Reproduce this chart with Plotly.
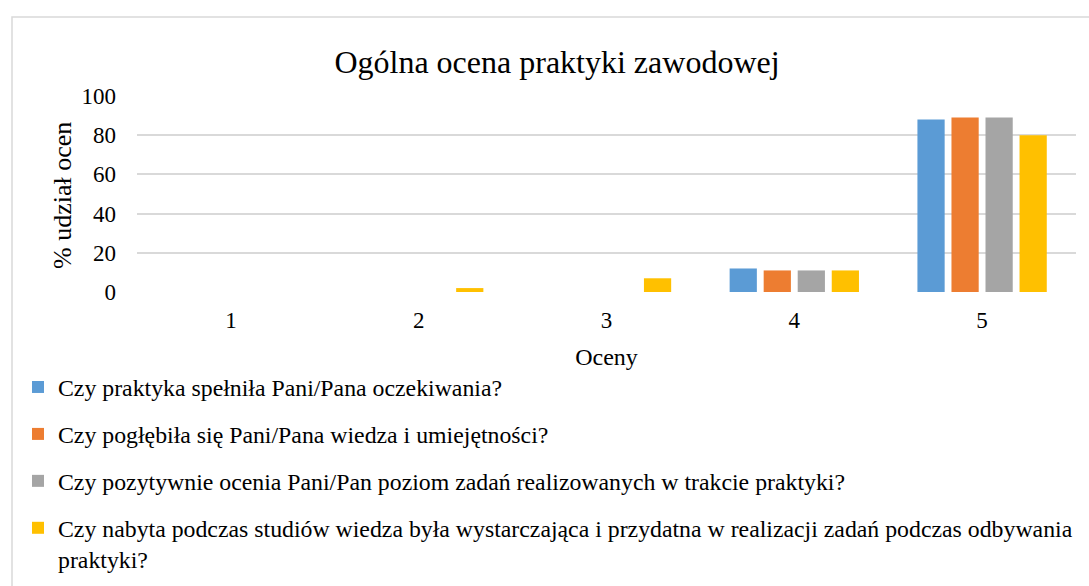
import plotly.graph_objects as go

categories = ["1", "2", "3", "4", "5"]
series_names = [
    "Czy praktyka spełniła Pani/Pana oczekiwania?",
    "Czy pogłębiła się Pani/Pana wiedza i umiejętności?",
    "Czy pozytywnie ocenia Pani/Pan poziom zadań realizowanych w trakcie praktyki?",
    "Czy nabyta podczas studiów wiedza była wystarczająca i przydatna w realizacji zadań podczas odbywania<br>praktyki?",
]
s1 = [0, 0, 0, 12, 88]
s2 = [0, 0, 0, 11, 89]
s3 = [0, 0, 0, 11, 89]
s4 = [0, 2, 7, 11, 80]
colors = ["#5B9BD5", "#ED7D31", "#A5A5A5", "#FFC000"]

FONT = "Liberation Serif, Times New Roman, serif"
W, H = 1089, 586
L, R, T, B = 137, 13, 96, 294

fig = go.Figure()
for i, (name, vals) in enumerate(zip(series_names, [s1, s2, s3, s4])):
    fig.add_trace(go.Bar(
        x=categories, y=vals, name=name,
        marker=dict(color=colors[i], line=dict(width=0)),
        legendgroup=f"g{i}",
    ))

pw = W - L - R
ph = H - T - B
def px(xp):
    return (xp - L) / pw
def py(yp):
    return (H - B - yp) / ph

fig.add_shape(type="rect", xref="paper", yref="paper",
              x0=px(12), x1=px(1100), y0=py(17), y1=py(600),
              line=dict(color="#D9D9D9", width=1.5), fillcolor="rgba(0,0,0,0)", layer="below")

fig.add_annotation(text="% udział ocen", xref="paper", yref="paper",
                   x=px(62), y=py(196), xanchor="center", yanchor="middle",
                   textangle=-90, showarrow=False,
                   font=dict(family=FONT, size=26, color="#000000"))

fig.update_layout(
    width=W, height=H,
    margin=dict(l=L, r=R, t=T, b=B, autoexpand=False),
    paper_bgcolor="white", plot_bgcolor="white",
    font=dict(family=FONT, color="#000000", size=23),
    title=dict(text="Ogólna ocena praktyki zawodowej", x=557 / W, xanchor="center",
               y=1 - 62 / H, yanchor="middle", yref="container",
               font=dict(family=FONT, size=32, color="#000000")),
    barmode="group", bargap=0.275, bargroupgap=0.2,
    showlegend=True,
    legend=dict(orientation="v", xref="container", yref="container",
                x=18 / W, xanchor="left", y=1 - 365 / H, yanchor="top",
                font=dict(family=FONT, size=23.8, color="#000000"),
                tracegroupgap=13, valign="top", traceorder="grouped",
                bgcolor="rgba(0,0,0,0)"),
    xaxis=dict(title=dict(text="Oceny", standoff=16, font=dict(family=FONT, size=24)),
               showgrid=False, zeroline=False, showline=False, ticks="",
               ticklabelstandoff=12,
               tickfont=dict(family=FONT, size=23)),
    yaxis=dict(range=[0, 100], tickvals=[0, 20, 40, 60, 80, 100],
               showgrid=True, gridcolor="#D9D9D9", gridwidth=1.5,
               zeroline=False, showline=False, ticks="", ticklabelstandoff=20,
               tickfont=dict(family=FONT, size=23)),
)

fig.write_html("out.html", config={"displayModeBar": False},
               post_script="document.body.style.margin='0';document.body.style.padding='0';")
